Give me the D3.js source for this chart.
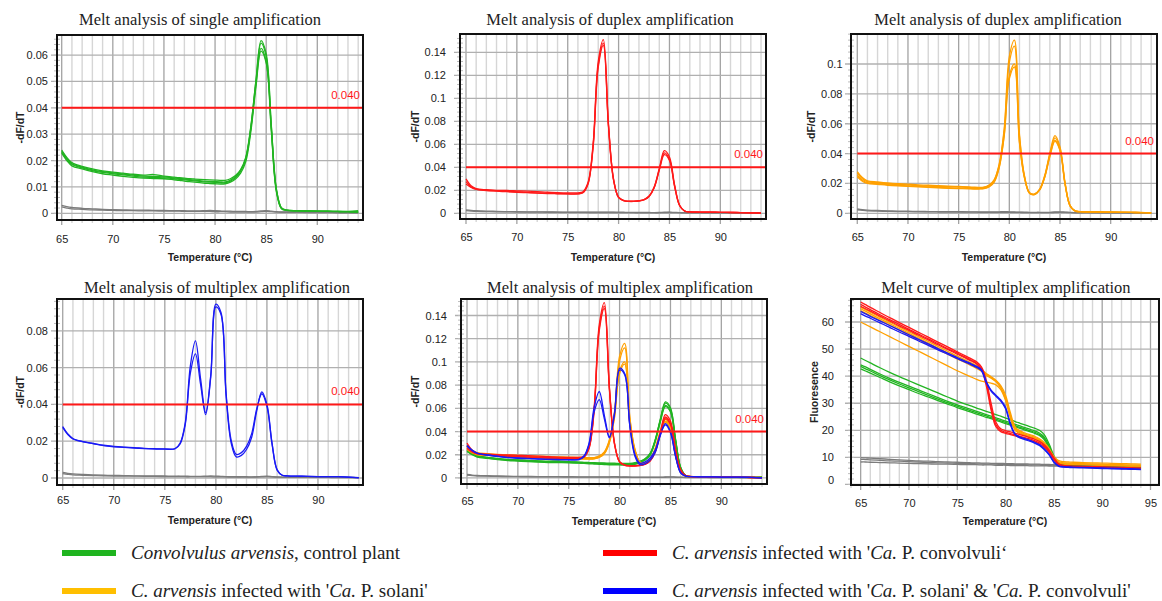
<!DOCTYPE html>
<html>
<head>
<meta charset="utf-8">
<script src="https://cdn.jsdelivr.net/npm/d3@7"></script>
<style>
  body { margin: 0; background: #fff; }
  svg { display: block; }
</style>
</head>
<body>
<div id="chart"></div>
<script>
// Temperature grid shared by every trace (°C)
const TEMP = [65, 65.5, 66, 67, 68, 69, 70, 71, 72, 73, 74, 75, 76, 76.5, 77, 77.5, 78, 78.5, 79, 79.5,
  80, 80.5, 81, 81.5, 82, 82.5, 83, 83.5, 84, 84.5, 85, 85.5, 86, 86.5, 87, 88, 89, 90, 91, 92, 93, 94];

// -dF/dT, control plant (green)
const greenDeriv1 = [0.0240, 0.0212, 0.0192, 0.0178, 0.0168, 0.0161, 0.0156, 0.0152, 0.0148, 0.0145, 0.0147, 0.0141, 0.0137, 0.0135, 0.0133, 0.0131, 0.0130, 0.0129, 0.0128, 0.0127, 0.0126, 0.0125, 0.0125, 0.0131, 0.0143, 0.0166, 0.0212, 0.0330, 0.0500, 0.0645, 0.0595, 0.0330, 0.0090, 0.0020, 0.0012, 0.0010, 0.0009, 0.0008, 0.0008, 0.0007, 0.0007, 0.0010];
const greenDeriv2 = [0.0232, 0.0205, 0.0185, 0.0172, 0.0162, 0.0155, 0.0150, 0.0146, 0.0141, 0.0137, 0.0136, 0.0134, 0.0131, 0.0129, 0.0127, 0.0125, 0.0123, 0.0121, 0.0119, 0.0118, 0.0117, 0.0116, 0.0116, 0.0122, 0.0136, 0.0160, 0.0205, 0.0320, 0.0490, 0.0625, 0.0575, 0.0320, 0.0085, 0.0018, 0.0011, 0.0009, 0.0008, 0.0008, 0.0007, 0.0007, 0.0006, 0.0006];
const greenDeriv3 = [0.0228, 0.0200, 0.0180, 0.0168, 0.0158, 0.0150, 0.0145, 0.0140, 0.0136, 0.0133, 0.0132, 0.0131, 0.0127, 0.0125, 0.0122, 0.0120, 0.0118, 0.0116, 0.0114, 0.0113, 0.0112, 0.0111, 0.0112, 0.0118, 0.0130, 0.0152, 0.0195, 0.0310, 0.0480, 0.0615, 0.0570, 0.0315, 0.0082, 0.0017, 0.0011, 0.0009, 0.0008, 0.0007, 0.0007, 0.0006, 0.0006, 0.0004];
const greenDeriv4 = [0.0236, 0.0208, 0.0188, 0.0175, 0.0165, 0.0158, 0.0153, 0.0149, 0.0145, 0.0141, 0.0140, 0.0138, 0.0134, 0.0132, 0.0130, 0.0128, 0.0126, 0.0124, 0.0122, 0.0121, 0.0120, 0.0119, 0.0119, 0.0126, 0.0140, 0.0163, 0.0208, 0.0325, 0.0505, 0.0655, 0.0605, 0.0335, 0.0092, 0.0020, 0.0012, 0.0010, 0.0009, 0.0008, 0.0008, 0.0007, 0.0006, 0.0005];

// -dF/dT, no template controls (grey)
const grayDeriv1 = [0.0030, 0.0025, 0.0022, 0.0019, 0.0017, 0.0015, 0.0014, 0.0013, 0.0012, 0.0012, 0.0011, 0.0011, 0.0010, 0.0010, 0.0010, 0.0009, 0.0009, 0.0009, 0.0010, 0.0011, 0.0010, 0.0009, 0.0008, 0.0008, 0.0007, 0.0007, 0.0007, 0.0006, 0.0007, 0.0009, 0.0010, 0.0008, 0.0006, 0.0005, 0.0005, 0.0005, 0.0004, 0.0004, 0.0004, 0.0003, 0.0003, 0.0002];
const grayDeriv2 = [0.0024, 0.0020, 0.0017, 0.0015, 0.0013, 0.0012, 0.0011, 0.0010, 0.0010, 0.0009, 0.0009, 0.0008, 0.0008, 0.0008, 0.0007, 0.0007, 0.0007, 0.0007, 0.0007, 0.0007, 0.0006, 0.0006, 0.0006, 0.0005, 0.0005, 0.0005, 0.0005, 0.0005, 0.0005, 0.0006, 0.0007, 0.0006, 0.0005, 0.0004, 0.0004, 0.0004, 0.0003, 0.0003, 0.0003, 0.0002, 0.0002, 0.0002];

// -dF/dT, 'Ca. P. convolvuli' (red)
const redDeriv1 = [0.0300, 0.0240, 0.0215, 0.0205, 0.0200, 0.0198, 0.0195, 0.0192, 0.0188, 0.0183, 0.0180, 0.0178, 0.0178, 0.0188, 0.0270, 0.0610, 0.1320, 0.1510, 0.0780, 0.0300, 0.0140, 0.0112, 0.0106, 0.0106, 0.0110, 0.0120, 0.0150, 0.0230, 0.0390, 0.0545, 0.0490, 0.0250, 0.0070, 0.0020, 0.0013, 0.0011, 0.0010, 0.0008, 0.0008, 0.0006, 0.0004, 0.0002];
const redDeriv2 = [0.0275, 0.0230, 0.0210, 0.0200, 0.0195, 0.0190, 0.0186, 0.0182, 0.0178, 0.0174, 0.0172, 0.0170, 0.0170, 0.0180, 0.0260, 0.0590, 0.1290, 0.1480, 0.0770, 0.0295, 0.0138, 0.0110, 0.0104, 0.0104, 0.0108, 0.0118, 0.0148, 0.0225, 0.0380, 0.0525, 0.0470, 0.0240, 0.0068, 0.0019, 0.0012, 0.0011, 0.0010, 0.0008, 0.0007, 0.0006, 0.0004, 0.0002];
const redDeriv3 = [0.0255, 0.0225, 0.0208, 0.0198, 0.0192, 0.0188, 0.0183, 0.0179, 0.0175, 0.0172, 0.0170, 0.0168, 0.0168, 0.0178, 0.0255, 0.0580, 0.1270, 0.1460, 0.0760, 0.0290, 0.0136, 0.0109, 0.0103, 0.0103, 0.0107, 0.0117, 0.0146, 0.0222, 0.0375, 0.0510, 0.0460, 0.0235, 0.0066, 0.0019, 0.0012, 0.0010, 0.0009, 0.0008, 0.0007, 0.0005, 0.0004, 0.0002];

// -dF/dT, 'Ca. P. solani' (orange)
const orangeDeriv1 = [0.0280, 0.0240, 0.0218, 0.0210, 0.0203, 0.0198, 0.0195, 0.0191, 0.0188, 0.0185, 0.0182, 0.0180, 0.0177, 0.0175, 0.0174, 0.0176, 0.0190, 0.0225, 0.0330, 0.0570, 0.1050, 0.1160, 0.0530, 0.0250, 0.0138, 0.0130, 0.0162, 0.0255, 0.0405, 0.0520, 0.0445, 0.0205, 0.0052, 0.0016, 0.0012, 0.0010, 0.0009, 0.0008, 0.0008, 0.0007, 0.0006, 0.0004];
const orangeDeriv2 = [0.0270, 0.0232, 0.0212, 0.0205, 0.0198, 0.0193, 0.0190, 0.0186, 0.0183, 0.0180, 0.0178, 0.0176, 0.0173, 0.0172, 0.0171, 0.0173, 0.0186, 0.0220, 0.0322, 0.0555, 0.1010, 0.1120, 0.0515, 0.0245, 0.0136, 0.0128, 0.0160, 0.0250, 0.0395, 0.0505, 0.0435, 0.0200, 0.0050, 0.0016, 0.0011, 0.0010, 0.0009, 0.0008, 0.0007, 0.0006, 0.0005, 0.0003];
const orangeDeriv3 = [0.0255, 0.0222, 0.0205, 0.0198, 0.0192, 0.0187, 0.0184, 0.0180, 0.0177, 0.0174, 0.0171, 0.0169, 0.0167, 0.0166, 0.0165, 0.0167, 0.0180, 0.0212, 0.0310, 0.0530, 0.0920, 0.1000, 0.0480, 0.0238, 0.0134, 0.0127, 0.0158, 0.0245, 0.0385, 0.0490, 0.0425, 0.0195, 0.0049, 0.0015, 0.0011, 0.0010, 0.0009, 0.0008, 0.0007, 0.0006, 0.0005, 0.0003];
const orangeDeriv4 = [0.0245, 0.0215, 0.0200, 0.0194, 0.0188, 0.0184, 0.0181, 0.0177, 0.0174, 0.0171, 0.0168, 0.0166, 0.0164, 0.0163, 0.0163, 0.0165, 0.0177, 0.0208, 0.0305, 0.0520, 0.0900, 0.0980, 0.0470, 0.0235, 0.0133, 0.0126, 0.0157, 0.0243, 0.0380, 0.0482, 0.0420, 0.0192, 0.0048, 0.0015, 0.0011, 0.0010, 0.0009, 0.0008, 0.0007, 0.0006, 0.0005, 0.0003];

// -dF/dT, mixed infection (blue)
const blueDeriv1 = [0.0280, 0.0240, 0.0215, 0.0198, 0.0188, 0.0178, 0.0172, 0.0168, 0.0165, 0.0161, 0.0159, 0.0158, 0.0160, 0.0190, 0.0300, 0.0610, 0.0745, 0.0540, 0.0355, 0.0560, 0.0945, 0.0900, 0.0450, 0.0190, 0.0115, 0.0123, 0.0155, 0.0220, 0.0365, 0.0468, 0.0400, 0.0190, 0.0045, 0.0015, 0.0012, 0.0010, 0.0009, 0.0008, 0.0008, 0.0007, 0.0005, 0.0001];
const blueDeriv2 = [0.0275, 0.0236, 0.0212, 0.0196, 0.0186, 0.0176, 0.0170, 0.0166, 0.0163, 0.0160, 0.0158, 0.0157, 0.0159, 0.0185, 0.0290, 0.0570, 0.0675, 0.0510, 0.0345, 0.0550, 0.0930, 0.0890, 0.0460, 0.0205, 0.0128, 0.0138, 0.0172, 0.0240, 0.0375, 0.0458, 0.0390, 0.0185, 0.0043, 0.0015, 0.0012, 0.0010, 0.0009, 0.0008, 0.0008, 0.0007, 0.0005, 0.0002];

// Raw fluorescence, multiplex run
const fluorRed1 = [67.4, 66.4, 65.4, 63.5, 61.6, 59.8, 58.0, 56.2, 54.4, 52.6, 50.8, 49.0, 47.2, 46.3, 45.3, 43.4, 38.5, 30.0, 23.0, 20.6, 19.9, 19.4, 18.9, 18.4, 17.9, 17.3, 16.7, 15.9, 14.7, 12.7, 9.9, 7.6, 7.0, 6.9, 6.8, 6.7, 6.6, 6.5, 6.4, 6.3, 6.2, 6.1];
const fluorRed2 = [66.5, 65.5, 64.6, 62.7, 60.9, 59.1, 57.3, 55.5, 53.8, 52.0, 50.2, 48.5, 46.7, 45.8, 44.8, 42.9, 37.5, 28.5, 22.0, 20.0, 19.3, 18.8, 18.3, 17.8, 17.3, 16.8, 16.2, 15.4, 14.2, 12.2, 9.5, 7.3, 6.8, 6.7, 6.6, 6.5, 6.4, 6.3, 6.2, 6.1, 6.0, 5.9];
const fluorRed3 = [65.8, 64.9, 64.0, 62.2, 60.4, 58.6, 56.9, 55.1, 53.4, 51.6, 49.9, 48.1, 46.4, 45.5, 44.5, 42.5, 36.5, 27.5, 21.3, 19.5, 18.9, 18.4, 17.9, 17.4, 16.9, 16.4, 15.8, 15.0, 13.8, 11.9, 9.2, 7.1, 6.6, 6.5, 6.4, 6.3, 6.2, 6.1, 6.0, 5.9, 5.8, 5.8];
const fluorOrange1 = [65.5, 64.6, 63.6, 61.8, 60.0, 58.2, 56.4, 54.6, 52.8, 51.0, 49.2, 47.4, 45.7, 44.8, 43.9, 42.6, 41.0, 39.8, 38.5, 36.5, 33.0, 26.5, 21.2, 19.8, 19.0, 18.4, 17.8, 16.9, 15.5, 13.3, 10.4, 8.8, 8.4, 8.3, 8.2, 8.1, 8.0, 7.9, 7.8, 7.7, 7.6, 7.5];
const fluorOrange2 = [64.9, 64.0, 63.0, 61.2, 59.4, 57.6, 55.8, 54.0, 52.2, 50.4, 48.6, 46.9, 45.2, 44.3, 43.4, 42.2, 40.7, 39.5, 38.2, 36.0, 32.0, 25.5, 20.7, 19.4, 18.6, 18.0, 17.4, 16.5, 15.1, 12.9, 10.1, 8.4, 8.0, 7.9, 7.8, 7.7, 7.6, 7.5, 7.4, 7.3, 7.2, 7.1];
const fluorOrange3 = [64.2, 63.3, 62.4, 60.6, 58.8, 57.0, 55.2, 53.4, 51.7, 49.9, 48.1, 46.4, 44.7, 43.8, 42.9, 41.8, 40.3, 39.2, 37.9, 35.6, 31.5, 25.0, 20.3, 19.0, 18.3, 17.7, 17.1, 16.2, 14.8, 12.6, 9.8, 8.1, 7.7, 7.6, 7.5, 7.4, 7.3, 7.2, 7.1, 7.0, 6.9, 6.8];
const fluorOrange4 = [60.0, 59.1, 58.2, 56.4, 54.6, 52.8, 51.0, 49.2, 47.4, 45.6, 43.8, 42.0, 40.4, 39.6, 38.8, 38.2, 37.8, 37.4, 36.8, 35.0, 31.0, 24.5, 20.0, 18.8, 18.1, 17.5, 16.9, 16.0, 14.6, 12.4, 9.6, 8.0, 7.6, 7.5, 7.4, 7.3, 7.2, 7.1, 7.0, 6.9, 6.8, 6.8];
const fluorBlue1 = [63.9, 63.0, 62.1, 60.4, 58.7, 57.0, 55.3, 53.6, 51.9, 50.2, 48.5, 46.9, 45.3, 44.5, 43.6, 42.4, 38.0, 34.8, 33.0, 31.2, 28.5, 22.5, 18.6, 17.5, 16.9, 16.3, 15.6, 14.7, 13.2, 11.2, 8.4, 6.9, 6.6, 6.5, 6.4, 6.3, 6.2, 6.1, 6.0, 5.9, 5.8, 5.7];
const fluorBlue2 = [63.1, 62.2, 61.4, 59.7, 58.0, 56.3, 54.7, 53.0, 51.4, 49.7, 48.1, 46.5, 44.9, 44.1, 43.2, 42.0, 37.6, 34.5, 32.6, 30.8, 28.0, 22.0, 18.3, 17.2, 16.6, 16.0, 15.3, 14.4, 12.9, 10.9, 8.2, 6.7, 6.4, 6.3, 6.2, 6.1, 6.0, 5.9, 5.8, 5.7, 5.6, 5.5];
const fluorGreen1 = [46.7, 45.8, 44.9, 43.1, 41.4, 39.8, 38.3, 36.8, 35.3, 33.8, 32.3, 30.8, 29.5, 28.9, 28.2, 27.6, 27.0, 26.4, 25.8, 25.2, 24.5, 23.9, 23.2, 22.6, 22.0, 21.4, 20.8, 20.0, 18.4, 15.0, 10.6, 7.9, 7.2, 7.0, 6.9, 6.8, 6.7, 6.6, 6.5, 6.4, 6.3, 6.2];
const fluorGreen2 = [44.2, 43.4, 42.5, 40.8, 39.2, 37.7, 36.3, 34.9, 33.5, 32.1, 30.7, 29.4, 28.2, 27.6, 27.0, 26.4, 25.8, 25.2, 24.6, 24.0, 23.4, 22.8, 22.2, 21.6, 21.0, 20.4, 19.8, 19.0, 17.5, 14.3, 10.1, 7.6, 7.0, 6.8, 6.7, 6.6, 6.5, 6.4, 6.3, 6.2, 6.1, 6.0];
const fluorGreen3 = [43.6, 42.7, 41.9, 40.2, 38.6, 37.1, 35.7, 34.3, 32.9, 31.5, 30.2, 28.9, 27.7, 27.1, 26.5, 25.9, 25.3, 24.7, 24.1, 23.5, 22.9, 22.3, 21.7, 21.1, 20.5, 19.9, 19.3, 18.5, 17.0, 13.8, 9.8, 7.4, 6.9, 6.7, 6.6, 6.5, 6.4, 6.3, 6.2, 6.1, 6.0, 5.9];
const fluorGreen4 = [42.7, 41.9, 41.1, 39.5, 37.9, 36.4, 35.0, 33.6, 32.3, 31.0, 29.7, 28.4, 27.2, 26.6, 26.0, 25.4, 24.8, 24.3, 23.7, 23.1, 22.5, 21.9, 21.3, 20.7, 20.1, 19.5, 18.9, 18.1, 16.6, 13.4, 9.5, 7.3, 6.8, 6.6, 6.5, 6.4, 6.3, 6.2, 6.1, 6.0, 5.9, 5.8];
const fluorGray1 = [9.9, 9.8, 9.7, 9.5, 9.3, 9.1, 8.9, 8.7, 8.6, 8.4, 8.3, 8.2, 8.1, 8.0, 8.0, 7.9, 7.9, 7.8, 7.8, 7.8, 7.7, 7.7, 7.6, 7.6, 7.6, 7.5, 7.5, 7.5, 7.4, 7.4, 7.3, 7.3, 7.2, 7.2, 7.2, 7.1, 7.0, 6.9, 6.9, 6.8, 6.7, 6.6];
const fluorGray2 = [9.3, 9.2, 9.1, 8.9, 8.7, 8.6, 8.4, 8.3, 8.1, 8.0, 7.9, 7.8, 7.7, 7.7, 7.6, 7.6, 7.5, 7.5, 7.5, 7.4, 7.4, 7.4, 7.3, 7.3, 7.3, 7.2, 7.2, 7.2, 7.1, 7.1, 7.1, 7.0, 7.0, 7.0, 6.9, 6.9, 6.8, 6.8, 6.7, 6.7, 6.6, 6.5];
const fluorGray3 = [8.3, 8.3, 8.2, 8.1, 8.0, 7.9, 7.8, 7.7, 7.6, 7.5, 7.5, 7.4, 7.3, 7.3, 7.3, 7.2, 7.2, 7.2, 7.1, 7.1, 7.1, 7.0, 7.0, 7.0, 7.0, 6.9, 6.9, 6.9, 6.9, 6.8, 6.8, 6.8, 6.8, 6.7, 6.7, 6.7, 6.6, 6.6, 6.5, 6.5, 6.4, 6.4];

// Axis ticks
const xTicksDeriv = [65, 70, 75, 80, 85, 90];
const xTicksFluor = [65, 70, 75, 80, 85, 90, 95];
const yTicksSingle = [0, 0.01, 0.02, 0.03, 0.04, 0.05, 0.06];
const yTicksRed = [0, 0.02, 0.04, 0.06, 0.08, 0.1, 0.12, 0.14];
const yTicksOrange = [0, 0.02, 0.04, 0.06, 0.08, 0.1];
const yTicksBlue = [0, 0.02, 0.04, 0.06, 0.08];
const yTicksFluor = [0, 10, 20, 30, 40, 50, 60];
const THRESHOLD = 0.04;

// Legend
const legendColors = ['#1fb41f', '#ff0000', '#ffbf00', '#0000ff'];
const legendLabels = [
  [['Convolvulus arvensis', true], [', control plant', false]],
  [['C. arvensis', true], [' infected with \'', false], ['Ca.', true], [' P. convolvuli\u2018', false]],
  [['C. arvensis', true], [' infected with \'', false], ['Ca.', true], [' P. solani\'', false]],
  [['C. arvensis', true], [' infected with \'', false], ['Ca.', true], [' P. solani\' & \'', false], ['Ca.', true], [' P. convolvuli\'', false]]
];

const GREEN = '#22b422', RED = '#ff1a1a', ORANGE = '#ffa000', BLUE = '#1a1af5', GRAY = '#7c7c7c';

const greenSet = [greenDeriv1, greenDeriv2, greenDeriv3, greenDeriv4];
const redSet = [redDeriv1, redDeriv2, redDeriv3];
const orangeSet = [orangeDeriv1, orangeDeriv2, orangeDeriv3, orangeDeriv4];
const blueSet = [blueDeriv1, blueDeriv2];
const graySet = [grayDeriv1, grayDeriv2];

function traces(sets, color) {
  return sets.map(v => ({ values: v, color: color }));
}

const fmt = d => d === 0 ? '0' : String(+d.toFixed(3));

// Panel layout
const panels = [
  { title: 'Melt analysis of single amplification', titleX: 200, titleY: 25,
    left: 57, right: 363, top: 35, bottom: 220,
    xDomain: [64.54, 94.47], yDomain: [-0.00254, 0.0676],
    xTicks: xTicksDeriv, yTicks: yTicksSingle, yMinor: 0.002,
    yPad: 9, xPad: 15, yTitleX: 20, yTitle: '-dF/dT', xTitleY: 261, threshold: true,
    series: traces(graySet, GRAY).concat(traces(greenSet, GREEN)) },
  { title: 'Melt analysis of duplex amplification', titleX: 610, titleY: 25,
    left: 460, right: 766, top: 34, bottom: 219,
    xDomain: [64.41, 94.49], yDomain: [-0.00496, 0.1559],
    xTicks: xTicksDeriv, yTicks: yTicksRed, yMinor: 0.004,
    yPad: 14, xPad: 13.7, yTitleX: 415, yTitle: '-dF/dT', xTitleY: 261, threshold: true,
    series: traces(graySet, GRAY).concat(traces(redSet, RED)) },
  { title: 'Melt analysis of duplex amplification', titleX: 998, titleY: 25,
    left: 851, right: 1157, top: 34, bottom: 219,
    xDomain: [64.38, 94.57], yDomain: [-0.0038, 0.1201],
    xTicks: xTicksDeriv, yTicks: yTicksOrange, yMinor: 0.004,
    yPad: 8.5, xPad: 14, yTitleX: 811, yTitle: '-dF/dT', xTitleY: 261, threshold: true,
    series: traces(graySet, GRAY).concat(traces(orangeSet, ORANGE)) },
  { title: 'Melt analysis of multiplex amplification', titleX: 217, titleY: 293,
    left: 57, right: 363, top: 299, bottom: 485,
    xDomain: [64.44, 94.41], yDomain: [-0.0038, 0.0973],
    xTicks: xTicksDeriv, yTicks: yTicksBlue, yMinor: 0.004,
    yPad: 9, xPad: 11, yTitleX: 20, yTitle: '-dF/dT', xTitleY: 524, threshold: true,
    series: traces(graySet, GRAY).concat(traces(blueSet, BLUE)) },
  { title: 'Melt analysis of multiplex amplification', titleX: 620, titleY: 293,
    left: 461, right: 767, top: 299, bottom: 484,
    xDomain: [64.41, 94.49], yDomain: [-0.0052, 0.1542],
    xTicks: xTicksDeriv, yTicks: yTicksRed, yMinor: 0.004,
    yPad: 14, xPad: 12.7, yTitleX: 415, yTitle: '-dF/dT', xTitleY: 525, threshold: true,
    series: traces(graySet, GRAY).concat(traces(greenSet, GREEN), traces(orangeSet, ORANGE),
      traces(redSet, RED), traces(blueSet, BLUE)) },
  { title: 'Melt curve of multiplex amplification', titleX: 1006, titleY: 293,
    left: 851, right: 1159, top: 299, bottom: 485,
    xDomain: [64.0, 95.88], yDomain: [-0.2, 68.5],
    xTicks: xTicksFluor, yTicks: yTicksFluor, yMinor: 2,
    yPad: 17, xPad: 13.7, yTitleX: 814, yTitle: 'Fluoresence', xTitleY: 525, threshold: false,
    series: traces([fluorGray1, fluorGray2, fluorGray3], GRAY).concat(
      traces([fluorGreen1, fluorGreen2, fluorGreen3, fluorGreen4], GREEN),
      traces([fluorOrange1, fluorOrange2, fluorOrange3, fluorOrange4], ORANGE),
      traces([fluorRed1, fluorRed2, fluorRed3], RED),
      traces([fluorBlue1, fluorBlue2], BLUE)) }
];

const svg = d3.select('#chart')
  .append('svg')
  .attr('width', 1162)
  .attr('height', 601);

svg.append('rect').attr('width', 1162).attr('height', 601).attr('fill', '#fff');

panels.forEach((p, i) => {
  const x = d3.scaleLinear().domain(p.xDomain).range([p.left, p.right]);
  const y = d3.scaleLinear().domain(p.yDomain).range([p.bottom, p.top]);
  const g = svg.append('g');

  const clipId = 'clip' + i;
  svg.append('clipPath').attr('id', clipId)
    .append('rect')
    .attr('x', p.left).attr('y', p.top)
    .attr('width', p.right - p.left).attr('height', p.bottom - p.top);

  // vertical grid, every degree
  const degrees = d3.range(Math.ceil(p.xDomain[0]), Math.floor(p.xDomain[1]) + 1);
  g.selectAll('.vminor')
    .data(degrees.filter(d => d % 5 !== 0))
    .enter().append('line')
    .attr('x1', d => x(d)).attr('x2', d => x(d))
    .attr('y1', p.top).attr('y2', p.bottom + 3)
    .attr('stroke', '#d6d6d6').attr('stroke-width', 1.4);
  g.selectAll('.vmajor')
    .data(p.xTicks.filter(d => d < p.xDomain[1]))
    .enter().append('line')
    .attr('x1', d => x(d)).attr('x2', d => x(d))
    .attr('y1', p.top).attr('y2', p.bottom + 5)
    .attr('stroke', '#a3a3a3').attr('stroke-width', 1.3);

  // horizontal grid
  g.selectAll('.hmajor')
    .data(p.yTicks)
    .enter().append('line')
    .attr('x1', p.left - 6).attr('x2', p.right)
    .attr('y1', d => y(d)).attr('y2', d => y(d))
    .attr('stroke', '#b0b0b0').attr('stroke-width', 1.3);
  const minors = d3.range(0, p.yDomain[1], p.yMinor);
  g.selectAll('.hminor')
    .data(minors)
    .enter().append('line')
    .attr('x1', p.left - 3).attr('x2', p.left + 3)
    .attr('y1', d => y(d)).attr('y2', d => y(d))
    .attr('stroke', '#bdbdbd').attr('stroke-width', 1);

  // curves
  const line = d3.line()
    .x((d, k) => x(TEMP[k]))
    .y(d => y(d))
    .curve(d3.curveCatmullRom.alpha(0.5));
  g.append('g').attr('clip-path', 'url(#' + clipId + ')')
    .selectAll('path')
    .data(p.series)
    .enter().append('path')
    .attr('d', s => line(s.values))
    .attr('fill', 'none')
    .attr('stroke', s => s.color)
    .attr('stroke-width', 1.3);

  // threshold
  if (p.threshold) {
    g.append('line')
      .attr('x1', x(65)).attr('x2', p.right)
      .attr('y1', y(THRESHOLD)).attr('y2', y(THRESHOLD))
      .attr('stroke', '#ff1818').attr('stroke-width', 2);
    g.append('text')
      .attr('x', p.right - 3).attr('y', y(THRESHOLD) - 9)
      .attr('text-anchor', 'end')
      .attr('font-family', 'Liberation Sans, Arial, sans-serif')
      .attr('font-size', 11.5)
      .attr('fill', '#ff1818')
      .text(THRESHOLD.toFixed(3));
  }

  // frame
  g.append('rect')
    .attr('x', p.left).attr('y', p.top)
    .attr('width', p.right - p.left).attr('height', p.bottom - p.top)
    .attr('fill', 'none').attr('stroke', '#111').attr('stroke-width', 2);

  // axes labels
  const yAxis = d3.axisLeft(y).tickValues(p.yTicks).tickFormat(fmt).tickSize(0).tickPadding(p.yPad);
  const ya = g.append('g').attr('transform', 'translate(' + p.left + ',0)').call(yAxis);
  const xAxis = d3.axisBottom(x).tickValues(p.xTicks).tickFormat(d3.format('d')).tickSize(0).tickPadding(p.xPad);
  const xa = g.append('g').attr('transform', 'translate(0,' + p.bottom + ')').call(xAxis);
  [ya, xa].forEach(a => {
    a.select('.domain').remove();
    a.selectAll('text')
      .attr('font-family', 'Liberation Sans, Arial, sans-serif')
      .attr('font-size', 11)
      .attr('fill', '#222');
  });
  if (!p.threshold) {
    ya.selectAll('.tick').filter(d => d === 0).select('text').attr('dy', '-0.1em');
  }

  g.append('text')
    .attr('x', (p.left + p.right) / 2).attr('y', p.xTitleY)
    .attr('text-anchor', 'middle')
    .attr('font-family', 'Liberation Sans, Arial, sans-serif')
    .attr('font-weight', 'bold').attr('font-size', 10.5)
    .attr('fill', '#222')
    .text('Temperature (°C)');

  g.append('text')
    .attr('transform', 'translate(' + p.yTitleX + ',' + ((p.top + p.bottom) / 2) + ') rotate(-90)')
    .attr('text-anchor', 'middle')
    .attr('dy', '0.35em')
    .attr('font-family', 'Liberation Sans, Arial, sans-serif')
    .attr('font-weight', 'bold').attr('font-size', 10.5)
    .attr('fill', '#222')
    .text(p.yTitle);

  g.append('text')
    .attr('x', p.titleX).attr('y', p.titleY)
    .attr('text-anchor', 'middle')
    .attr('font-family', 'Liberation Serif, Times New Roman, serif')
    .attr('font-size', 16.5)
    .attr('fill', '#222')
    .text(p.title);
});

// legend
const legendPos = [[62, 553], [603, 553], [62, 591], [603, 591]];
const legend = svg.append('g');
legendLabels.forEach((segs, i) => {
  const [lx, ly] = legendPos[i];
  legend.append('rect')
    .attr('x', lx).attr('y', ly - 3)
    .attr('width', 54).attr('height', 6)
    .attr('fill', legendColors[i]);
  const t = legend.append('text')
    .attr('x', lx + 69).attr('y', ly + 6)
    .attr('font-family', 'Liberation Serif, Times New Roman, serif')
    .attr('font-size', 19)
    .attr('fill', '#222');
  segs.forEach(s => {
    t.append('tspan')
      .attr('font-style', s[1] ? 'italic' : 'normal')
      .text(s[0]);
  });
});
</script>
</body>
</html>
